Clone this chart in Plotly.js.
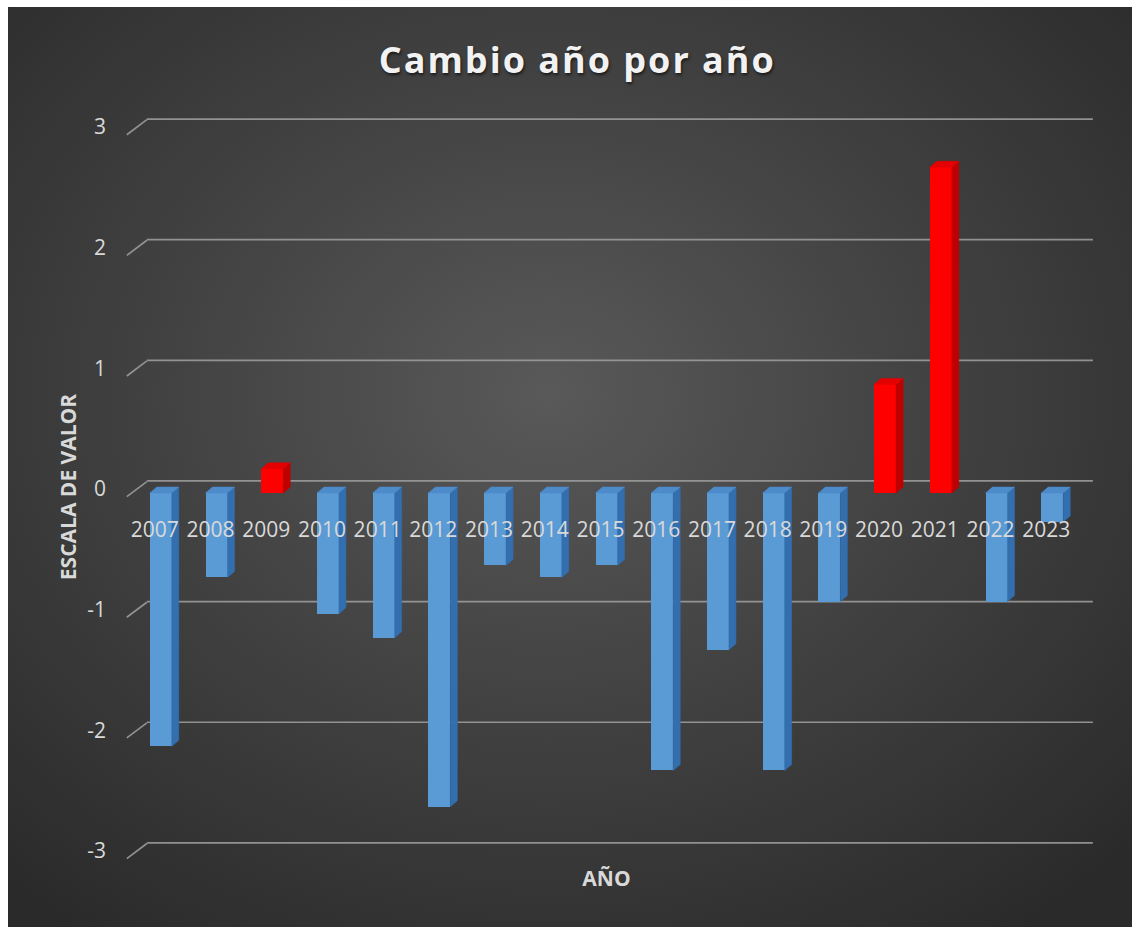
<!DOCTYPE html>
<html>
<head>
<meta charset="utf-8">
<script src="https://cdn.plot.ly/plotly-3.0.1.min.js"></script>
<style>
  html, body { margin: 0; padding: 0; background: #ffffff; }
  #frame {
    position: absolute; left: 8px; top: 7px; width: 1124px; height: 920px;
    background: radial-gradient(ellipse 72% 72% at 48% 42%, #595959 0%, #434343 45%, #2a2a2a 100%);
  }
  #chart { position: absolute; left: 0; top: 0; width: 1132px; height: 927px; }
</style>
</head>
<body>
<div id="frame"></div>
<div id="chart"></div>
<script>
// Year-over-year change, one bar per year
const years = ['2007', '2008', '2009', '2010', '2011', '2012', '2013', '2014', '2015',
               '2016', '2017', '2018', '2019', '2020', '2021', '2022', '2023'];
const values = [-2.1, -0.7, 0.2, -1.0, -1.2, -2.6, -0.6, -0.7, -0.6,
                -2.3, -1.3, -2.3, -0.9, 0.9, 2.7, -0.9, -0.24];
const yTicks = [-3, -2, -1, 0, 1, 2, 3];
const yTickText = ['-3', '-2', '-1', '0', '1', '2', '3'];

// Styling / geometry of the pseudo-3D look
const BLUE = { front: '#5b9bd5', side: '#336fae', top: '#4d8bcb' };
const RED = { front: '#ff0000', side: '#c00000', top: '#e40000' };
const barW = 0.395;           // bar width in category units
const depthX = 0.126;         // extrusion to the right (x units)
const depthY = 0.05;          // extrusion upward (y units)
const wallY = 0.1;            // back-wall offset of gridlines (y units)
const xRange = [-0.75, 16.75];
const yRange = [-3.1, 3.2];
const zeroPos = (0 - yRange[0]) / (yRange[1] - yRange[0]);

const idx = years.map((_, i) => i);
const pal = v => (v > 0 ? RED : BLUE);

// Side and top faces as filled polygons, one trace per colour/face
function faces(color, kind) {
  const xs = [], ys = [];
  values.forEach((v, i) => {
    if (pal(v) !== color) return;
    const hi = Math.max(0, v), lo = Math.min(0, v);
    const l = i - barW / 2, r = i + barW / 2;
    if (kind === 'side') {
      xs.push(r, r + depthX, r + depthX, r, r, null);
      ys.push(hi, hi + depthY, lo + depthY, lo, hi, null);
    } else {
      xs.push(l, r, r + depthX, l + depthX, l, null);
      ys.push(hi, hi, hi + depthY, hi + depthY, hi, null);
    }
  });
  return {
    type: 'scatter', mode: 'lines', x: xs, y: ys, fill: 'toself',
    fillcolor: color[kind], line: { color: color[kind], width: 0.5 },
    hoverinfo: 'skip', showlegend: false, xaxis: 'x2', yaxis: 'y'
  };
}

const traces = [
  {
    type: 'bar', x: idx, y: values, width: barW,
    marker: { color: values.map(v => pal(v).front), line: { width: 0 } },
    hovertext: years, showlegend: false, xaxis: 'x', yaxis: 'y'
  },
  faces(BLUE, 'side'), faces(BLUE, 'top'),
  faces(RED, 'side'), faces(RED, 'top')
];

// Gridlines on the back wall, with a short floor edge on the left
const gridColor = 'rgba(155,155,155,0.9)';
const shapes = [];
yTicks.forEach(t => {
  shapes.push({ type: 'line', layer: 'below', xref: 'x', yref: 'y',
    x0: -0.25, x1: xRange[1] - 0.02, y0: t + wallY, y1: t + wallY,
    line: { color: gridColor, width: 1.7 } });
  shapes.push({ type: 'line', layer: 'below', xref: 'x', yref: 'y',
    x0: -0.61, x1: -0.25, y0: t - 0.03, y1: t + wallY - 0.005,
    line: { color: gridColor, width: 1.7 } });
});

const labelFont = { family: 'Open Sans, sans-serif', size: 21, color: '#d9d9d9' };
const axisTitleFont = { family: 'Open Sans, sans-serif', size: 21, color: '#d9d9d9', weight: 700 };

const layout = {
  width: 1132, height: 927,
  paper_bgcolor: 'rgba(0,0,0,0)', plot_bgcolor: 'rgba(0,0,0,0)',
  margin: { l: 119, r: 38, t: 107, b: 60 },
  bargap: 0,
  title: {
    text: 'Cambio año por año',
    x: 0.51, xanchor: 'center', y: 1 - 60 / 927, yanchor: 'middle', yref: 'container',
    font: { family: 'Open Sans, sans-serif', size: 36, weight: 700, color: '#f2f2f2',
            shadow: '1px 2px 3px rgba(0,0,0,0.6)' }
  },
  xaxis: {
    range: xRange, tickmode: 'array', tickvals: idx, ticktext: years,
    anchor: 'free', position: zeroPos,
    showgrid: false, zeroline: false, showline: false, ticks: '',
    tickfont: labelFont, ticklabelstandoff: 22, ticklabelshift: -6, fixedrange: true
  },
  xaxis2: {
    range: xRange, overlaying: 'x', anchor: 'y', side: 'bottom',
    showgrid: false, zeroline: false, showline: false, showticklabels: false, ticks: '',
    title: { text: 'AÑO', font: axisTitleFont, standoff: 4 }, fixedrange: true
  },
  yaxis: {
    range: yRange, tickmode: 'array', tickvals: yTicks, ticktext: yTickText,
    showgrid: false, zeroline: false, showline: false, ticks: '',
    tickfont: labelFont, ticklabelstandoff: 12, ticklabelshift: -4,
    title: { text: 'ESCALA DE VALOR', font: axisTitleFont, standoff: 4 }, fixedrange: true
  },
  shapes: shapes
};

Plotly.newPlot('chart', traces, layout, { displayModeBar: false, staticPlot: true }).then(() => {
  const t = document.querySelector('.gtitle');
  if (t) t.style.letterSpacing = '2px';
});
</script>
</body>
</html>
